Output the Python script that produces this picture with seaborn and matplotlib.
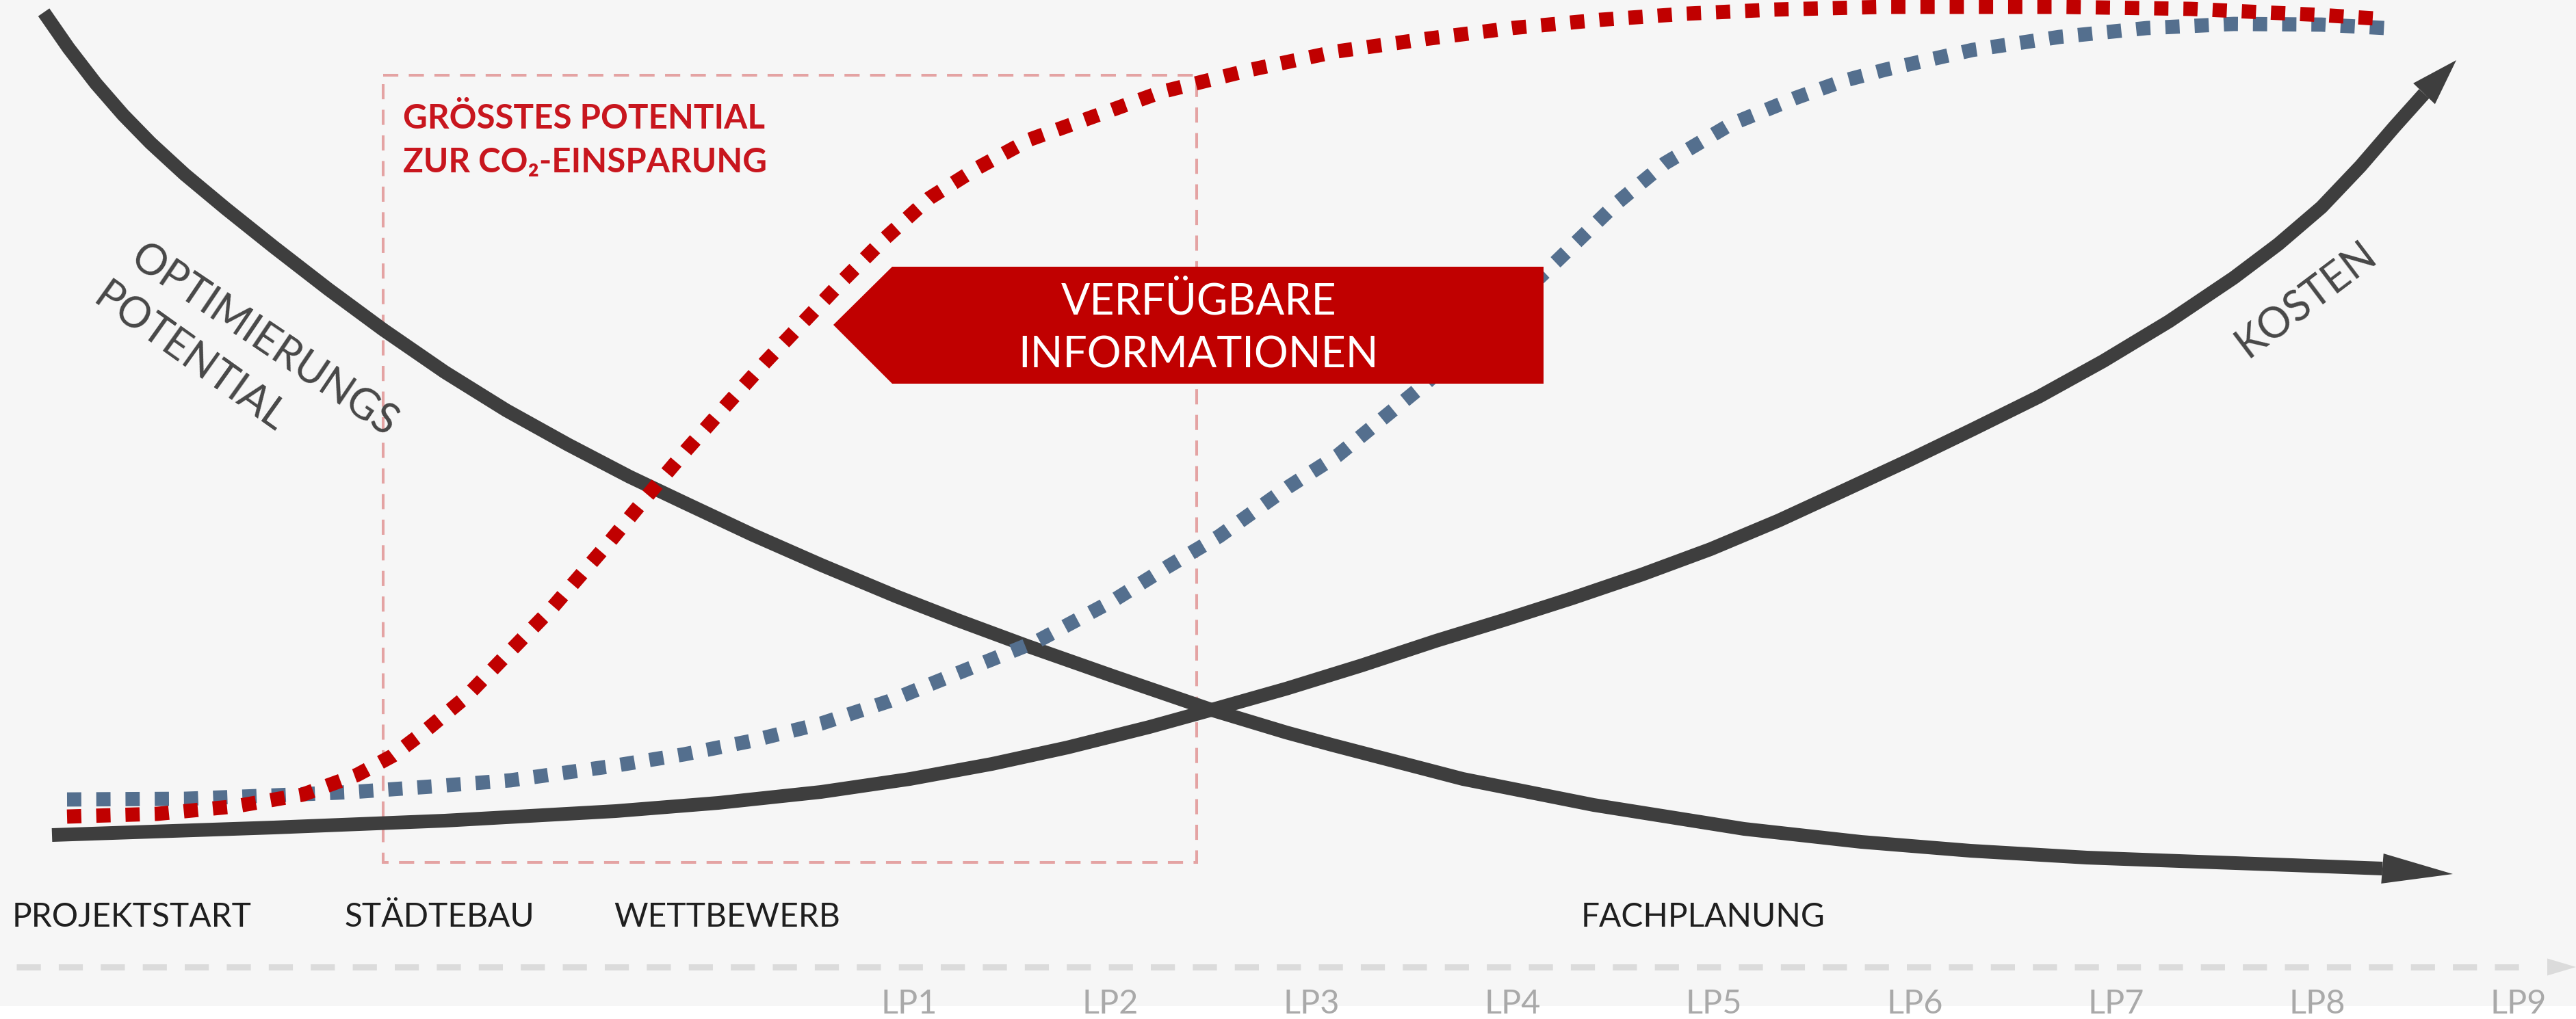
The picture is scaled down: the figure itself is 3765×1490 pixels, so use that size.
import matplotlib.pyplot as plt
import seaborn as sns
import numpy as np
from matplotlib.patches import Polygon, Rectangle

sns.set_theme(style="white")
plt.rcParams['font.family'] = ['Lato', 'DejaVu Sans']

# curve points (pixel space, y grows downward)
optim_x = [64, 100, 140, 180, 220, 270, 330, 400, 480, 560, 650, 740, 830, 920,
           1000, 1100, 1200, 1310, 1400, 1500, 1628, 1774, 1880, 1946, 2138, 2329,
           2549, 2720, 2880, 3050, 3212, 3350, 3482]
optim_y = [18, 70, 122, 168, 209, 255, 305, 361, 423, 482, 544, 600, 650, 697,
           735, 782, 826, 872, 907, 944, 989, 1039, 1071, 1089, 1139, 1177,
           1212, 1231, 1244, 1254, 1260, 1265, 1270]
optim_tip = (3585, 1278)

kosten_x = [76, 400, 650, 900, 1050, 1200, 1330, 1450, 1560, 1680, 1774, 1880,
            1990, 2099, 2200, 2297, 2400, 2500, 2600, 2691, 2790, 2883, 2980,
            3074, 3170, 3265, 3330, 3393, 3450, 3500, 3543]
kosten_y = [1221, 1210, 1200, 1186, 1174, 1158, 1139, 1117, 1093, 1063, 1037, 1007,
            973, 937, 906, 875, 840, 803, 761, 719, 673, 628, 580,
            528, 470, 406, 357, 303, 243, 185, 137]
kosten_tip = (3590, 88)

red_x = [98, 230, 344, 442, 522, 574, 620, 680, 740, 806, 892, 947, 1004, 1061,
         1119, 1176, 1234, 1294, 1358, 1428, 1505, 1594, 1699, 1828, 1955, 2083,
         2210, 2338, 2465, 2593, 2755, 3010, 3202, 3393, 3487]
red_y = [1194, 1190, 1179, 1162, 1133, 1105, 1070, 1020, 958, 890, 791, 724, 657, 593,
         529, 469, 408, 348, 290, 246, 204, 172, 134, 102, 75, 57,
         41, 29, 20, 14, 10, 10, 13, 22, 28]

blue_x = [98, 270, 402, 517, 631, 746, 896, 1000, 1100, 1200, 1300, 1361, 1517,
          1629, 1706, 1782, 1883, 1955, 2083, 2180, 2274, 2363, 2433, 2529, 2625,
          2695, 2755, 2883, 3010, 3138, 3265, 3393, 3504]
blue_y = [1169, 1168, 1163, 1158, 1150, 1141, 1120, 1103, 1083, 1058, 1025, 1000, 937,
          877, 829, 784, 712, 666, 561, 472, 383, 297, 239, 182, 143,
          118, 102, 73, 54, 41, 35, 36, 42]

phases = ["PROJEKTSTART", "STÄDTEBAU", "WETTBEWERB", "FACHPLANUNG"]
phase_left = [18, 503, 897, 2311]
lp_labels = ["LP1", "LP2", "LP3", "LP4", "LP5", "LP6", "LP7", "LP8", "LP9"]

# layout
W, H = 3765, 1490
bg = "#f6f6f6"
dark = "#3e3e3e"
red = "#c00000"
blue = "#546f8e"


def arrow_head(ax, base, tip, width, color, z):
    b = np.array(base, float)
    t = np.array(tip, float)
    u = (t - b) / np.hypot(*(t - b))
    n = np.array([-u[1], u[0]])
    pts = [t, b + n * width / 2, b - n * width / 2]
    ax.add_patch(Polygon(pts, closed=True, color=color, lw=0, zorder=z))


fig = plt.figure(figsize=(W / 100, H / 100), dpi=100, facecolor="white")
ax = fig.add_axes([0, 0, 1, 1])
ax.add_patch(Rectangle((0, 0), W, 1471, color=bg, lw=0, zorder=0))

# dashed frame for the biggest CO2 potential
ax.add_patch(Rectangle((560, 110), 1749 - 560, 1261 - 110, fill=False,
                       edgecolor="#e4a3a3", lw=2.9, linestyle=(0, (5.5, 3.8)), zorder=1))

# solid curves
sns.lineplot(x=optim_x, y=optim_y, ax=ax, color=dark, lw=14.4, sort=False,
             estimator=None, solid_capstyle="butt", solid_joinstyle="round", zorder=3)
sns.lineplot(x=kosten_x, y=kosten_y, ax=ax, color=dark, lw=14.4, sort=False,
             estimator=None, solid_capstyle="butt", solid_joinstyle="round", zorder=3)
arrow_head(ax, (optim_x[-1], optim_y[-1]), optim_tip, 44, dark, 3)
arrow_head(ax, (kosten_x[-1], kosten_y[-1]), kosten_tip, 44, dark, 3)

# dotted curves
sns.lineplot(x=blue_x, y=blue_y, ax=ax, color=blue, lw=15, sort=False, estimator=None,
             linestyle=(0, (1, 1.05)), dash_capstyle="butt", zorder=4)
sns.lineplot(x=red_x, y=red_y, ax=ax, color=red, lw=15, sort=False, estimator=None,
             linestyle=(0, (1, 1.05)), dash_capstyle="butt", zorder=5)

# info arrow box
box = [(1218, 475), (1304, 390), (2256, 390), (2256, 561), (1304, 561)]
ax.add_patch(Polygon(box, closed=True, color=red, lw=0, zorder=6))
ax.text(1752, 459, "VERFÜGBARE", color="white", fontsize=45, fontweight="normal",
        ha="center", va="baseline", zorder=7)
ax.text(1752, 537, "INFORMATIONEN", color="white", fontsize=45, fontweight="normal",
        ha="center", va="baseline", zorder=7)

# red note
ax.text(589, 188, "GRÖSSTES POTENTIAL", color="#c8161e", fontsize=35.5,
        fontweight="bold", ha="left", va="baseline", zorder=7)
ax.text(589, 252, "ZUR CO₂-EINSPARUNG", color="#c8161e", fontsize=35.5,
        fontweight="bold", ha="left", va="baseline", zorder=7)

# rotated curve names
rot_font = dict(color="#474747", fontsize=44, fontweight="normal", rotation_mode="anchor",
                ha="center", va="center_baseline", zorder=7)
ax.text(388, 494, "OPTIMIERUNGS", rotation=-34, **rot_font)
ax.text(280, 520, "POTENTIAL", rotation=-35.5, **rot_font)
ax.text(3367, 434, "KOSTEN", rotation=37, **rot_font)

# phase labels
for name, x0 in zip(phases, phase_left):
    ax.text(x0, 1355, name, color="#1f1f1f", fontsize=34.5, fontweight="normal",
            ha="left", va="baseline", zorder=7)

# timeline
ax.plot([24, 3700], [1414, 1414], color="#dbdbdb", lw=6.5,
        linestyle=(0, (3.9, 2.9)), dash_capstyle="butt", zorder=2)
arrow_head(ax, (3723, 1414), (3765, 1414), 25, "#dbdbdb", 2)
for i, lp in enumerate(lp_labels):
    ax.text(1329 + 294 * i, 1482, lp, color="#a9a9a9", fontsize=35, fontweight="normal",
            ha="center", va="baseline", zorder=7)

ax.set_xlim(0, W)
ax.set_ylim(H, 0)
ax.axis("off")
fig.savefig("out.png", dpi=100, facecolor="white")
